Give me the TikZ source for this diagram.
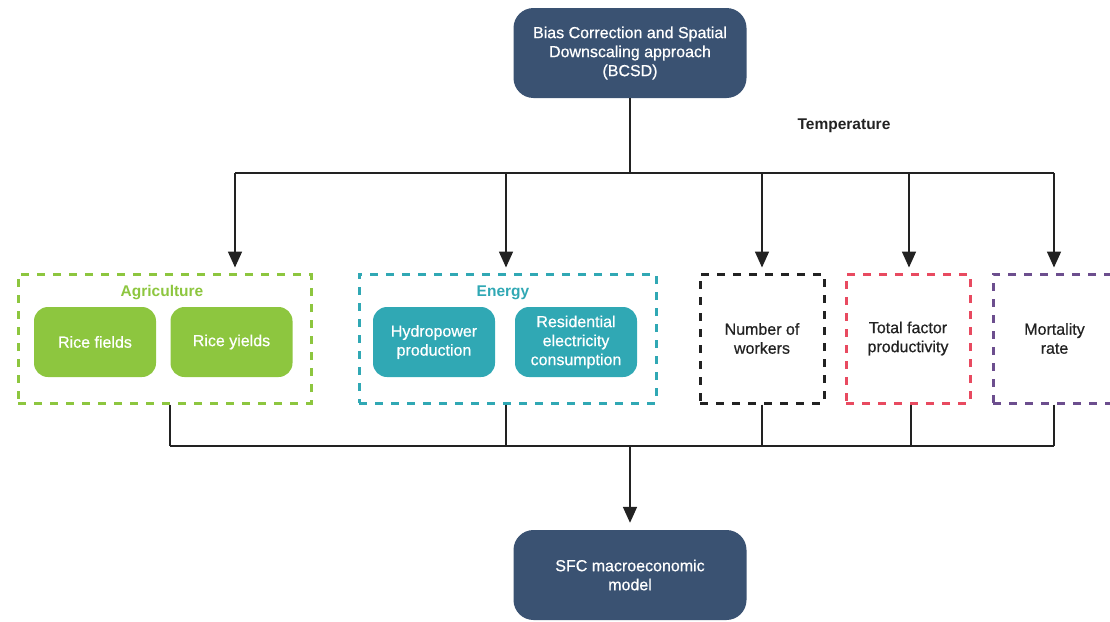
\documentclass[tikz,border=0pt]{standalone}
\usepackage{fontspec}
\setmainfont{Liberation Sans}
\newfontfamily\medfont{Liberation Sans}[FakeBold=0.6]
\usetikzlibrary{arrows.meta}

\definecolor{slateblue}{HTML}{3A5272}
\definecolor{agrigreen}{HTML}{8DC63F}
\definecolor{energyteal}{HTML}{30A8B4}
\definecolor{tfpred}{HTML}{E84A60}
\definecolor{mortpurple}{HTML}{6C4E8E}
\definecolor{linegray}{HTML}{222222}

\tikzset{
  mainbox/.style={draw=none, fill=slateblue, text=white, rounded corners=20pt,
    minimum width=233pt, minimum height=90pt, align=center,
    font=\medfont\fontsize{16}{19}\selectfont},
  subbox/.style={draw=none, text=white, rounded corners=14pt,
    minimum width=122pt, minimum height=70pt, align=center,
    font=\medfont\fontsize{16}{19}\selectfont},
  groupbox/.style={draw=#1, line width=3pt, dash pattern=on 8pt off 8pt,
    minimum height=129pt, align=center, text=linegray,
    font=\medfont\fontsize{16}{19}\selectfont},
  grouptitle/.style={font=\bfseries\fontsize{15.5}{19}\selectfont},
  conn/.style={draw=linegray, line width=1.7pt},
  arr/.style={conn, -{Triangle[length=16pt,width=14pt]}, shorten >=5pt}
}

\begin{document}
\begin{tikzpicture}[x=1pt,y=-1pt]
\useasboundingbox (0,0) rectangle (1110,621);

% top and bottom
\node[mainbox] (bcsd) at (630,53) {Bias Correction and Spatial\\Downscaling approach\\(BCSD)};
\node[mainbox] (sfc) at (630,575) {SFC macroeconomic\\model};
\node[font=\bfseries\fontsize{15.5}{19}\selectfont, text=linegray] (temp) at (844,126) {Temperature};

% groups
\node[groupbox=agrigreen, minimum width=293pt] (agri) at (164.5,338.5) {};
\node[grouptitle, text=agrigreen] (agrititle) at (162,293) {Agriculture};
\node[subbox, fill=agrigreen] (fields) at (95,342) {Rice fields};
\node[subbox, fill=agrigreen] (yields) at (231.5,342) {Rice yields};

\node[groupbox=energyteal, minimum width=297pt] (energy) at (507.5,338.5) {};
\node[grouptitle, text=energyteal] (energytitle) at (503,293) {Energy};
\node[subbox, fill=energyteal] (hydro) at (434,342) {Hydropower\\production};
\node[subbox, fill=energyteal] (resid) at (576,342) {Residential\\electricity\\consumption};

\node[groupbox=linegray, minimum width=124pt] (workers) at (762,338.5) {Number of\\workers};
\node[groupbox=tfpred, minimum width=124pt] (tfp) at (908,338.5) {Total factor\\productivity};
\node[groupbox=mortpurple, minimum width=123pt] (mort) at (1054.5,338.5) {Mortality\\rate};

% split from BCSD
\coordinate (tophub) at (630,173);
\coordinate (t1) at (235,173);
\coordinate (t2) at (506,173);
\coordinate (t3) at (762,173);
\coordinate (t4) at (909,173);
\coordinate (t5) at (1054,173);
\draw[conn] (bcsd.south) -- (tophub);
\draw[conn] (t1) -- (t5);
\draw[arr] (t1) -- (t1 |- agri.north);
\draw[arr] (t2) -- (t2 |- energy.north);
\draw[arr] (t3) -- (workers.north);
\draw[arr] (t4) -- (t4 |- tfp.north);
\draw[arr] (t5) -- (t5 |- mort.north);

% merge into SFC
\coordinate (bothub) at (630,446);
\coordinate (b1) at (170,446);
\coordinate (b2) at (506,446);
\coordinate (b3) at (762,446);
\coordinate (b4) at (911,446);
\coordinate (b5) at (1054,446);
\draw[conn] (b1 |- agri.south) -- (b1);
\draw[conn] (b2 |- energy.south) -- (b2);
\draw[conn] (workers.south) -- (b3);
\draw[conn] (b4 |- tfp.south) -- (b4);
\draw[conn] (b5 |- mort.south) -- (b5);
\draw[conn] (b1) -- (b5);
\draw[arr, shorten >=7pt] (bothub) -- (sfc.north);
\end{tikzpicture}
\end{document}
